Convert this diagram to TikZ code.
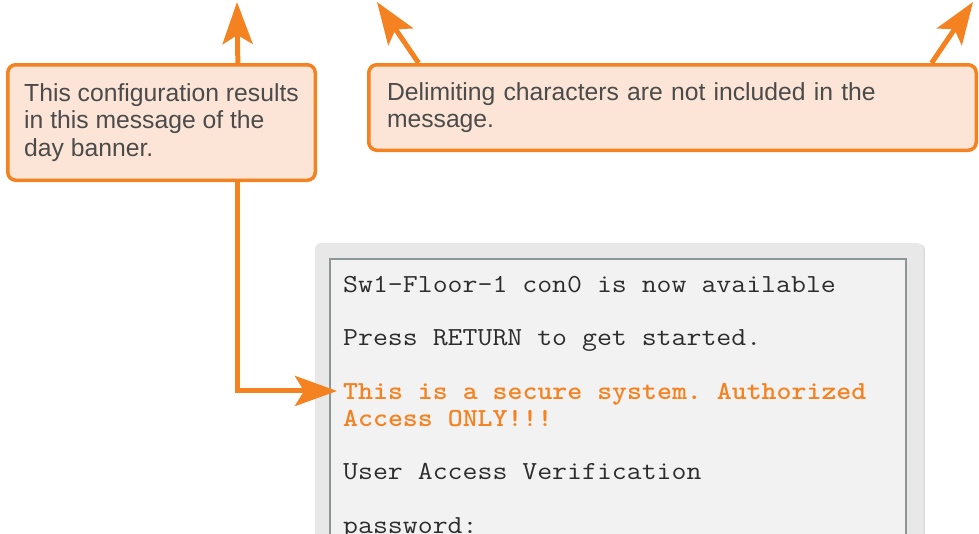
\documentclass[tikz,border=0pt]{standalone}
\usepackage{fontspec}
\usepackage{tikz}
\usetikzlibrary{arrows.meta,calc,shadows}
\newfontfamily\notefont{Liberation Sans}
\definecolor{ciscoorange}{RGB}{245,130,32}
\definecolor{notefill}{RGB}{252,229,214}
\definecolor{notetext}{RGB}{75,75,75}
\definecolor{termframe}{RGB}{232,232,232}
\definecolor{termback}{RGB}{242,242,242}
\definecolor{termedge}{RGB}{140,150,150}
\definecolor{termtext}{RGB}{45,45,45}
\newcommand{\cli}[2][1.115]{\scalebox{#1}[1]{\frenchspacing #2}}

\begin{document}
\begin{tikzpicture}[x=1pt,y=-1pt,
	note/.style={draw=ciscoorange, line width=3.5pt, fill=notefill, rounded corners=8pt,
		text=notetext, font=\notefont\fontsize{24.7}{27.5}\selectfont, align=left},
	callarrow/.style={draw=ciscoorange, line width=5pt, -{Stealth[length=42pt,width=30pt,inset=9pt]}},
	cliline/.style={anchor=base west, inner sep=0pt, text=termtext, font=\ttfamily\fontsize{26}{27}\selectfont},
	banner/.style={cliline, text=ciscoorange, font=\ttfamily\bfseries\fontsize{26}{27}\selectfont}]
	\useasboundingbox (0,0) rectangle (979,533);

	% console window
	\fill[termframe, rounded corners=6pt, drop shadow={shadow xshift=2pt, shadow yshift=-1pt, opacity=0.25}]
		(315,243) rectangle (923,580);
	\draw[termedge, line width=2.5pt, fill=termback] (330,259) rectangle (906,580);

	\node[cliline] (conline) at (343,292) {\cli{Sw1-Floor-1 con0 is now available}};
	\node[cliline] (pressline) at (343,345.6) {\cli{Press RETURN to get started.}};
	\node[banner] (motd1) at (343,399.2) {\cli[1.095]{This is a secure system. Authorized}};
	\node[banner] (motd2) at (343,426) {\cli[1.095]{Access ONLY!!!}};
	\node[cliline] (userline) at (343,479.6) {\cli{User Access Verification}};
	\node[cliline] (pwline) at (343,533.2) {\cli{password:}};

	% callouts
	\node[note, minimum width=307.5pt, minimum height=115.5pt]
		(cfgnote) at (161.5,122.5) {This configuration results\\ in this message of the\\ day banner.};
	\node[note, minimum width=607.5pt, minimum height=85.5pt, text width=571pt, inner xsep=18.25pt]
		(delimnote) at (672.5,107.5) {Delimiting characters are not included in the\\ message.};

	\coordinate (cfgtip) at (237,2);
	\coordinate (delimtipl) at (377,2);
	\coordinate (delimtipr) at (973,2);

	\draw[callarrow] ($(cfgnote.north west)!0.7455!(cfgnote.north east)$) -- (cfgtip);
	\draw[callarrow] ($(delimnote.north west)!0.0844!(delimnote.north east)$) -- (delimtipl);
	\draw[callarrow] ($(delimnote.north west)!0.924!(delimnote.north east)$) -- (delimtipr);
	\draw[callarrow, shorten >=6pt] ($(cfgnote.south west)!0.7455!(cfgnote.south east)$) |- ([yshift=3pt]motd1.west);
\end{tikzpicture}
\end{document}
